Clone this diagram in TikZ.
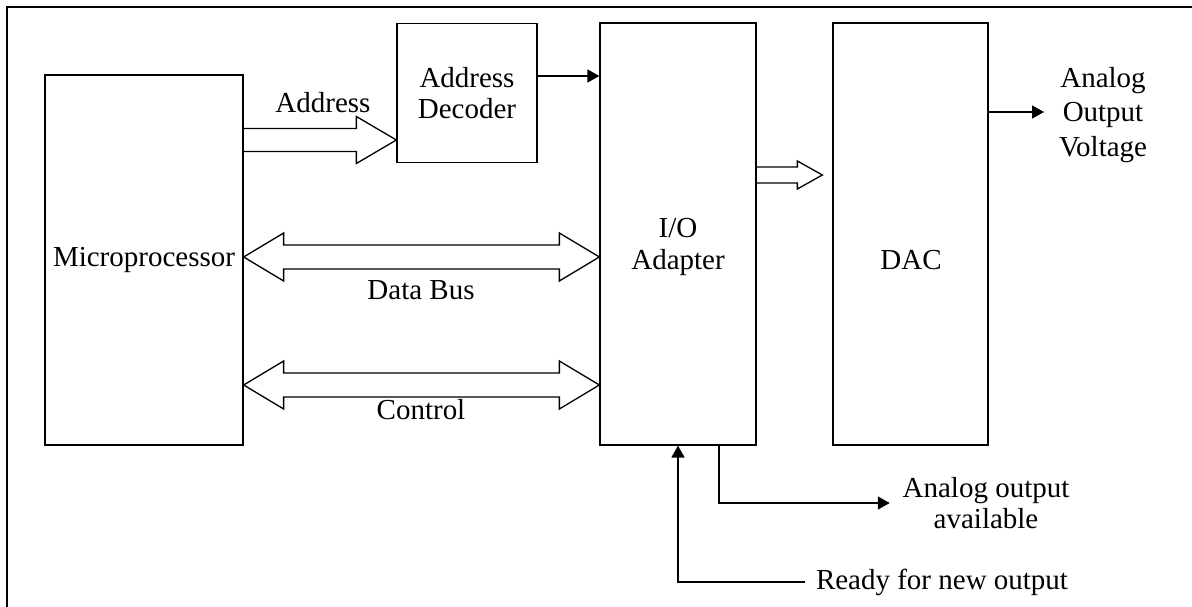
\documentclass[tikz,border=0pt]{standalone}
\usepackage{fontspec}
\setmainfont{Liberation Serif}
\usetikzlibrary{arrows.meta,calc}

% hollow bus arrows: start, end, half shaft, half head, head length
\newcommand{\busright}[5]{\draw ($(#1)+(0,-#3)$) -- ($(#2)+(-#5,-#3)$) -- ($(#2)+(-#5,-#4)$) -- (#2)
 -- ($(#2)+(-#5,#4)$) -- ($(#2)+(-#5,#3)$) -- ($(#1)+(0,#3)$);}
\newcommand{\busboth}[5]{\draw (#1) -- ($(#1)+(#5,-#4)$) -- ($(#1)+(#5,-#3)$) -- ($(#2)+(-#5,-#3)$) -- ($(#2)+(-#5,-#4)$) -- (#2)
 -- ($(#2)+(-#5,#4)$) -- ($(#2)+(-#5,#3)$) -- ($(#1)+(#5,#3)$) -- ($(#1)+(#5,#4)$) -- cycle;}

\begin{document}
\begin{tikzpicture}[x=0.02cm, y=-0.02cm, line width=0.75pt, font=\fontsize{16.5}{18}\selectfont,
block/.style={draw, rectangle, align=center, inner sep=0pt},
txt/.style={align=center, inner sep=0.3em},
sig/.style={-{Triangle[length=6.8pt,width=7.4pt]}}]
\useasboundingbox (0,0) rectangle (1192,607);
\draw[line width=1.2pt] (7,607) -- (7,7) -- (1192,7);
\begin{scope}
\node[block, minimum width=3.96cm, minimum height=7.4cm] (mp) at (144,260) {Microprocessor};
\node[block, minimum width=2.8cm, minimum height=2.78cm] (dec) at (467,93) {Address\\Decoder};
\node[block, minimum width=3.12cm, minimum height=8.44cm] (io) at (678,234) {};
\node[txt] (iotext) at (678,247) {I/O\\Adapter};
\node[block, minimum width=3.1cm, minimum height=8.44cm] (dac) at (910.5,234) {};
\node[txt] (dactext) at (911,260) {DAC};
%\node[txt] () at (,) {};
\node[txt] (addr) at (323,103) {Address};
\node[txt] (data) at (421,290) {Data Bus};
\node[txt] (ctrl) at (421,410) {Control};
\node[txt, font=\fontsize{16.5}{19.5}\selectfont] (vtext) at (1103,115) {Analog\\Output\\Voltage};
\node[txt] (avail) at (986,503) {Analog output\\available};
\node[txt] (ready) at (942,582) {Ready for new output};
\coordinate (dacin) at ($(dac.west |- 0,175)+(-10,0)$);
\coordinate (vout) at (1044,112);
\end{scope}
\begin{scope}
\busright{mp.east |- 0,140}{dec.west |- 0,140}{11.5}{23.5}{40}
\busboth{mp.east |- 0,257}{io.west |- 0,257}{12}{24}{40}
\busboth{mp.east |- 0,385}{io.west |- 0,385}{12}{24}{40}
\busright{io.east |- 0,175}{dacin}{8}{14}{25}
\draw[sig] (dec.east |- 0,76) -- (io.west |- 0,76);
\draw[sig] (dac.east |- 0,112) -- (vout);
\draw[sig] ($(io.south)+(41,0)$) |- ([xshift=-4pt]avail.west);
\draw[sig] ([xshift=-3pt]ready.west) -| (io.south);
\end{scope}
\end{tikzpicture}
\end{document}
